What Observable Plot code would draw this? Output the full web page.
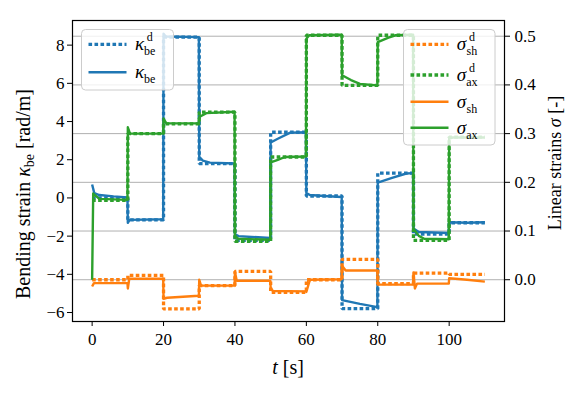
<!DOCTYPE html>
<html><head><meta charset="utf-8">
<script src="https://cdn.jsdelivr.net/npm/d3@7"></script>
<script src="https://cdn.jsdelivr.net/npm/@observablehq/plot@0.6"></script>
<style>body{margin:0;background:#fff;} svg{display:block}</style>
</head><body><div id="chart"></div>
<script>
// ---- data ----
const segStarts = [0, 10, 20, 30, 40, 50, 60, 70, 80, 90, 100];
const tEnd = 110;
const kappaDesired = [0.0, -1.15, 8.42, 1.8, -2.22, 3.44, 0.1, -5.8, 1.3, -1.9, -1.3];
const sigmaAxDesired = [0.163, 0.30, 0.32, 0.344, 0.079, 0.252, 0.502, 0.399, 0.502, 0.081, 0.293];
const sigmaShDesired = [0.0, 0.009, -0.06, -0.012, 0.017, -0.026, 0.0, 0.042, -0.008, 0.0136, 0.011];

const kappaMeasT = [0,0.6,2,6,9.9, 10,10.5,19.9, 20,20.6,29.9, 30,31,33,39.9, 40,41,49.9, 50,52,55.5,59.9, 60,61,65,69.9, 70,75,79.9, 80,84,88,89.9, 90,91.5,99.9, 100,105,110];
const kappaMeasV = [0.7,0.25,0.15,0.08,0.03, -1.3,-1.15,-1.12, 8.6,8.45,8.42, 2.15,1.95,1.85,1.8, -1.9,-2.0,-2.1, 2.9,3.1,3.42,3.44, 0.25,0.15,0.1,0.05, -5.35,-5.55,-5.72, 0.8,1.05,1.28,1.3, -1.6,-1.78,-1.84, -1.27,-1.3,-1.27];

const sigmaAxMeasT = [0,0.3,2,9.9, 10,10.6,19.9, 20,20.8,29.9, 30,32,39.9, 40,41,49.9, 50,52,54,59.9, 60,60.8,69.9, 70,72.5,75,79.9, 80,83,85,89.9, 90,91.5,93,99.9, 100,101,110];
const sigmaAxMeasV = [0.0,0.177,0.166,0.164, 0.313,0.30,0.30, 0.331,0.321,0.321, 0.334,0.342,0.345, 0.09,0.084,0.082, 0.241,0.246,0.252,0.253, 0.495,0.502,0.503, 0.42,0.41,0.402,0.399, 0.488,0.497,0.502,0.503, 0.105,0.09,0.084,0.083, 0.29,0.292,0.292];

const sigmaShMeasT = [0,0.5,9.9, 10,10.4,19.9, 20,21,29.9, 30,30.5,39.9, 40,40.5,49.9, 50,50.6,59.9, 60,61,69.9, 70,71,79.9, 80,89.9, 90,90.4,91,99.9, 100,105,110];
const sigmaShMeasV = [-0.014,-0.007,-0.007, -0.018,0.002,0.002, -0.039,-0.037,-0.033, 0.0,-0.012,-0.012, 0.016,-0.002,-0.002, -0.016,-0.023,-0.024, -0.025,0.0,0.001, 0.029,0.019,0.019, -0.01,-0.01, 0.015,-0.018,-0.008,-0.008, 0.003,0.0,-0.004];

const xTicks = [0, 20, 40, 60, 80, 100];
const kappaTicks = [-6, -4, -2, 0, 2, 4, 6, 8];
const sigmaTicks = [0.0, 0.1, 0.2, 0.3, 0.4, 0.5];

// ---- secondary axis alignment (sigma -> kappa units) ----
const K0 = -4.283, KS = 25.5;
const toK = s => K0 + KS * s;

const BLUE = "#1f77b4", ORANGE = "#ff7f0e", GREEN = "#2ca02c";
const DASH = "3.6,2.4";

const steps = vals => segStarts.concat([tEnd]).map((t, i) => ({t, v: vals[Math.min(i, vals.length - 1)]}));
const pts = (T, V) => T.map((t, i) => ({t, v: V[i]}));

const kDes = steps(kappaDesired);
const kMeas = pts(kappaMeasT, kappaMeasV);
const axDes = steps(sigmaAxDesired);
const shDes = steps(sigmaShDesired);
const axMeas = pts(sigmaAxMeasT, sigmaAxMeasV);
const shMeas = pts(sigmaShMeasT, sigmaShMeasV);

const dotted = (data, color, yf) => Plot.line(data, {x: "t", y: yf, curve: "step-after", stroke: color, strokeWidth: 3.3, strokeDasharray: DASH, strokeLinecap: "butt", strokeLinejoin: "miter"});
const solid = (data, color, yf) => Plot.line(data, {x: "t", y: yf, stroke: color, strokeWidth: 2.4, strokeLinecap: "butt", strokeLinejoin: "round"});

const svg = Plot.plot({
  width: 586, height: 397,
  marginLeft: 72, marginRight: 82, marginTop: 20, marginBottom: 76,
  style: {fontFamily: "'Liberation Serif', serif", fontSize: "17px", color: "black", background: "white"},
  x: {domain: [-5.5, 115.5]},
  y: {domain: [-6.47, 9.29]},
  marks: [
    Plot.gridY(sigmaTicks.map(toK), {stroke: "#b0b0b0", strokeOpacity: 1, strokeWidth: 1}),
    dotted(kDes, BLUE, "v"),
    solid(kMeas, BLUE, "v"),
    dotted(shDes, ORANGE, d => toK(d.v)),
    dotted(axDes, GREEN, d => toK(d.v)),
    solid(shMeas, ORANGE, d => toK(d.v)),
    solid(axMeas, GREEN, d => toK(d.v)),
    Plot.frame({stroke: "black", strokeWidth: 1.2}),
    Plot.axisX({ticks: xTicks, tickSize: 5, tickPadding: 6, label: null}),
    Plot.axisY({anchor: "left", ticks: kappaTicks, tickSize: 5, tickPadding: 3, label: null}),
    Plot.axisY({anchor: "right", ticks: sigmaTicks.map(toK), tickFormat: k => ((k - K0) / KS).toFixed(1), tickSize: 5, tickPadding: 5, label: null})
  ]
});
document.getElementById("chart").appendChild(svg);

const s = d3.select(svg);

// ---- axis titles ----
function title(x, y, rot, size, parts) {
  const t = s.append("text").attr("transform", `translate(${x},${y}) rotate(${rot})`)
    .attr("text-anchor", "middle").style("font-size", size).attr("fill", "black");
  parts.forEach(p => {
    const ts = t.append("tspan").text(p.text);
    if (p.italic) ts.style("font-style", "italic");
    if (p.size) ts.style("font-size", p.size);
    if (p.dy) ts.attr("dy", p.dy);
  });
}
title(30, 194, -90, "20px", [{text: "Bending strain "}, {text: "κ", italic: true}, {text: "be", size: "14px", dy: 4}, {text: " [rad/m]", dy: -4}]);
title(561, 163, -90, "18px", [{text: "Linear strains "}, {text: "σ", italic: true}, {text: " [-]"}]);
title(288, 374, 0, "20px", [{text: "t", italic: true}, {text: " [s]"}]);

// ---- legends ----
function mathLabel(g, x, y, sym, sup, sub) {
  const t = g.append("text").attr("x", x).attr("y", y).style("font-style", "italic").style("font-size", "19px").text(sym);
  const w = t.node().getComputedTextLength();
  if (sup) g.append("text").attr("x", x + w + 1).attr("y", y - 9.5).style("font-size", "12px").text(sup);
  if (sub) g.append("text").attr("x", x + w + 1).attr("y", y + 5).style("font-size", "12px").text(sub);
}
function legend(box, items) {
  const g = s.append("g");
  g.append("rect").attr("x", box.x).attr("y", box.y).attr("width", box.w).attr("height", box.h)
    .attr("rx", 4).attr("fill", "white").attr("fill-opacity", 0.8).attr("stroke", "#cccccc").attr("stroke-width", 1);
  items.forEach(it => {
    g.append("line").attr("x1", box.x + 7).attr("x2", box.x + 45).attr("y1", it.y).attr("y2", it.y)
      .attr("stroke", it.color).attr("stroke-width", it.dotted ? 3.3 : 2.4)
      .attr("stroke-dasharray", it.dotted ? DASH : null);
    mathLabel(g, box.x + 58, it.y + 6, it.sym, it.sup, it.sub);
  });
}
legend({x: 81.5, y: 29.5, w: 92, h: 60.5}, [
  {y: 44.3, color: BLUE, dotted: true, sym: "κ", sup: "d", sub: "be"},
  {y: 72.3, color: BLUE, dotted: false, sym: "κ", sub: "be"}
]);
legend({x: 403.5, y: 29.5, w: 91.5, h: 115.5}, [
  {y: 44.3, color: ORANGE, dotted: true, sym: "σ", sup: "d", sub: "sh"},
  {y: 75, color: GREEN, dotted: true, sym: "σ", sup: "d", sub: "ax"},
  {y: 101.7, color: ORANGE, dotted: false, sym: "σ", sub: "sh"},
  {y: 127.7, color: GREEN, dotted: false, sym: "σ", sub: "ax"}
]);
</script>
</body></html>
